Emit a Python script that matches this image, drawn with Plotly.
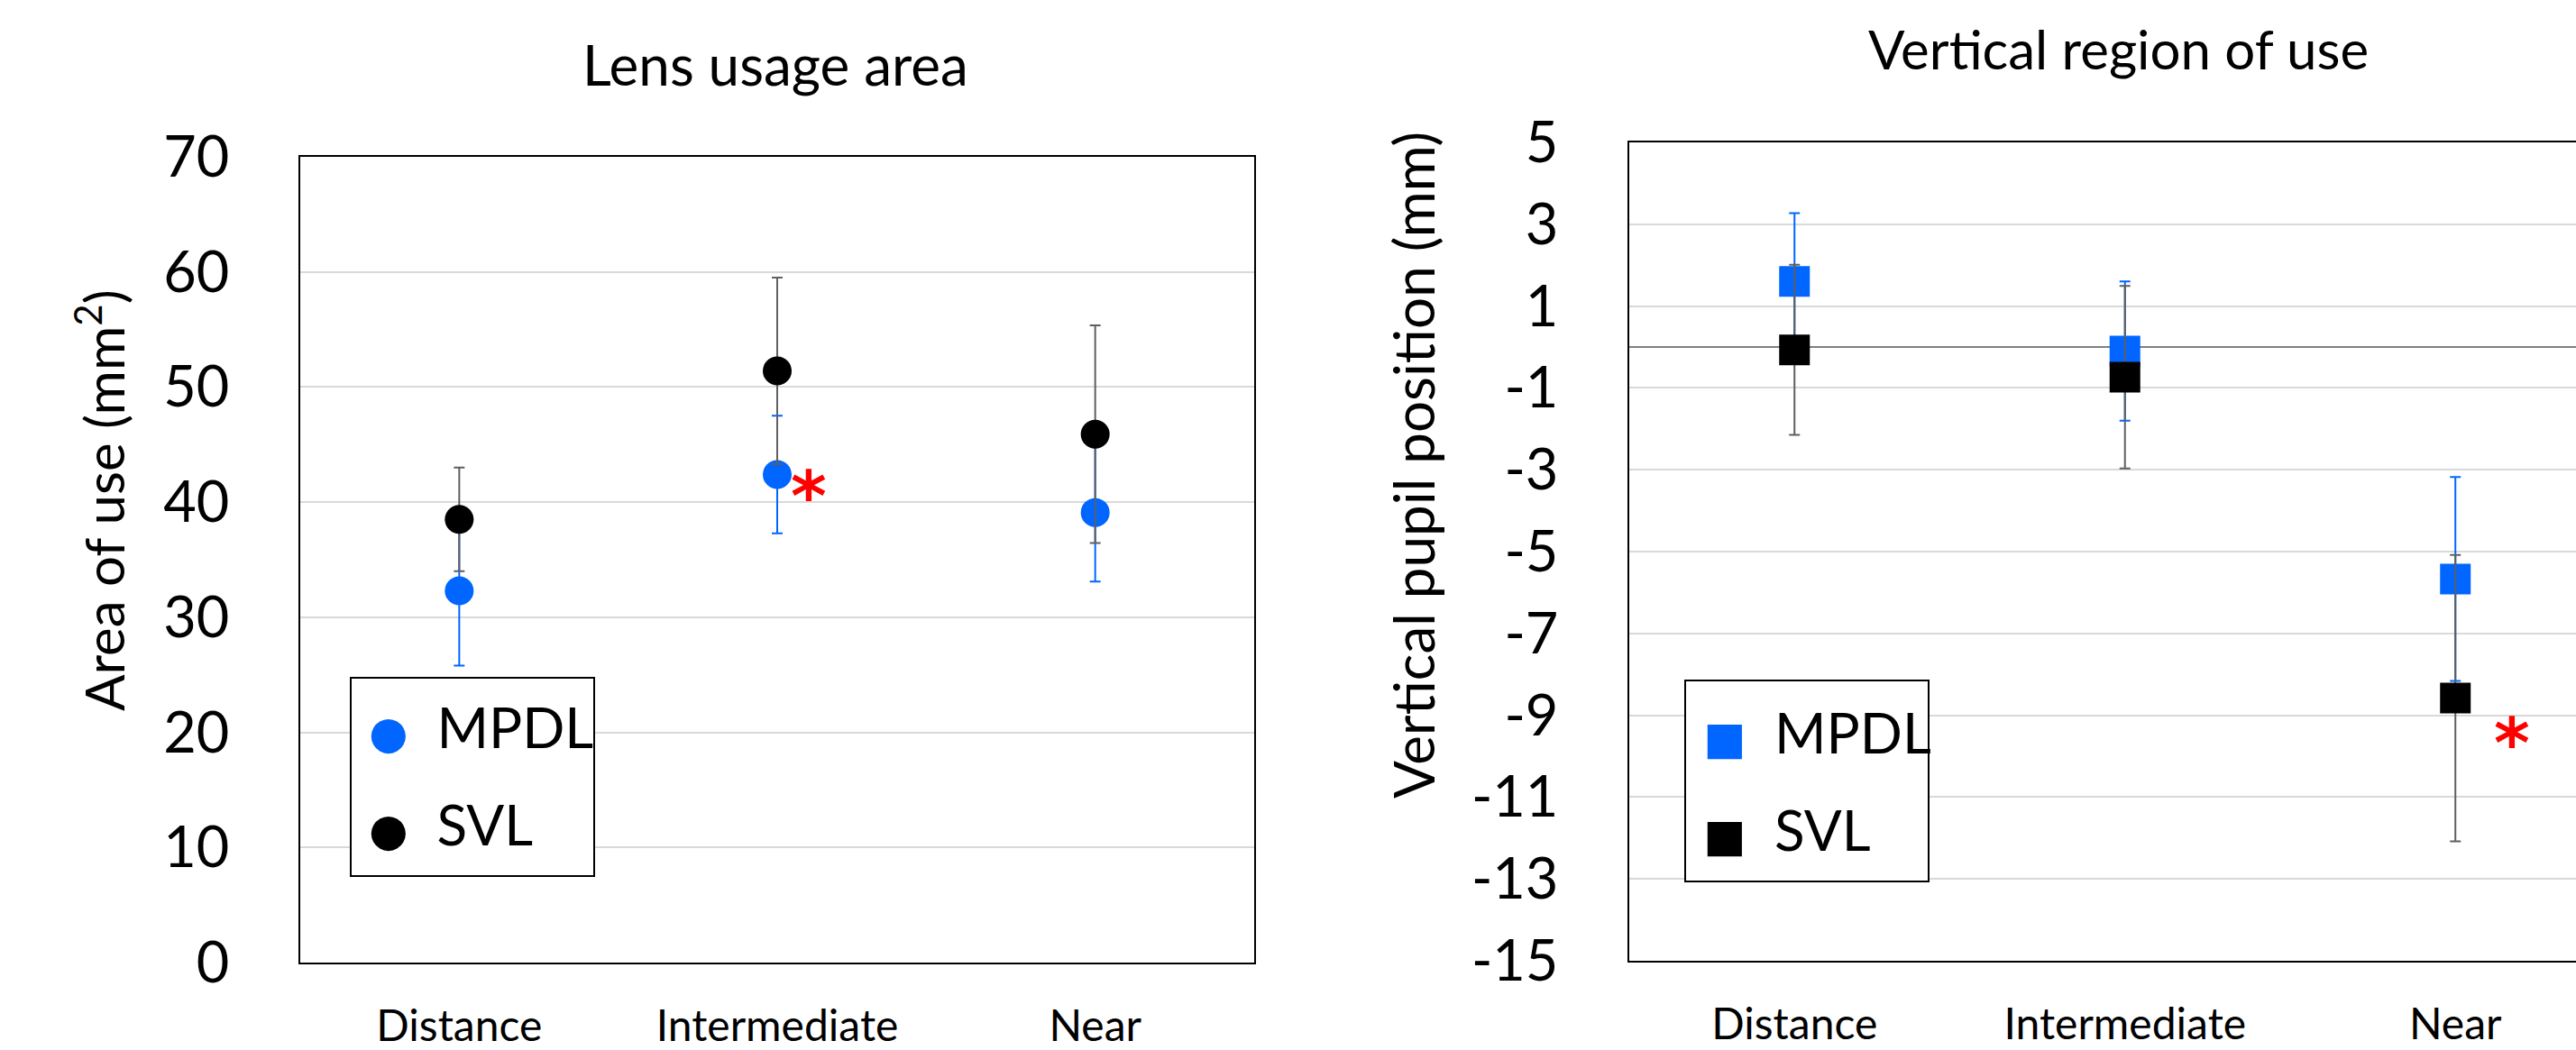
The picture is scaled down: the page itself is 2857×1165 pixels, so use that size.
import plotly.graph_objects as go

W, H = 2857, 1165

# ---------------- data ----------------
categories = ["Distance", "Intermediate", "Near"]
series_names = ["MPDL", "SVL"]

area_mpdl = [32.3, 42.4, 39.1]
area_mpdl_err = [6.5, 5.1, 6.0]
area_svl = [38.5, 51.4, 45.9]
area_svl_err = [4.5, 8.1, 9.45]

vert_mpdl = [1.6, -0.1, -5.67]
vert_mpdl_err = [1.67, 1.7, 2.49]
vert_svl = [-0.07, -0.74, -8.58]
vert_svl_err = [2.08, 2.23, 3.5]

area_ticks = [0, 10, 20, 30, 40, 50, 60, 70]
vert_ticks = [5, 3, 1, -1, -3, -5, -7, -9, -11, -13, -15]
vert_ticktext = ["5", "3", "1", "-1", "-3", "-5", "-7", "-9", "-11", "-13", "-15"]

# significance markers (category position, value)
area_sig = (1.1, 41.5)
vert_sig = (2.17, -9.45)

# ---------------- style ----------------
BLUE = "#0066ff"
BLACK = "#000000"
ERR_BLACK = "#5f5f5f"
GRID = "#d9d9d9"
FONT = "Lato"


def px_x(p):
    return p / W


def px_y(p):
    return 1 - p / H


fig = go.Figure()

# left panel
fig.add_trace(go.Scatter(
    x=categories, y=area_mpdl, mode="markers", name="MPDL", showlegend=False,
    marker=dict(color=BLUE, size=32, symbol="circle"),
    error_y=dict(type="data", array=area_mpdl_err, color=BLUE, thickness=2, width=6),
    xaxis="x", yaxis="y"))
fig.add_trace(go.Scatter(
    x=categories, y=area_svl, mode="markers", name="SVL", showlegend=False,
    marker=dict(color=BLACK, size=32, symbol="circle"),
    error_y=dict(type="data", array=area_svl_err, color=ERR_BLACK, thickness=2, width=6),
    xaxis="x", yaxis="y"))

# right panel
fig.add_trace(go.Scatter(
    x=categories, y=vert_mpdl, mode="markers", name="MPDL", showlegend=False,
    marker=dict(color=BLUE, size=34, symbol="square"),
    error_y=dict(type="data", array=vert_mpdl_err, color=BLUE, thickness=2, width=6),
    xaxis="x2", yaxis="y2"))
fig.add_trace(go.Scatter(
    x=categories, y=vert_svl, mode="markers", name="SVL", showlegend=False,
    marker=dict(color=BLACK, size=34, symbol="square"),
    error_y=dict(type="data", array=vert_svl_err, color=ERR_BLACK, thickness=2, width=6),
    xaxis="x2", yaxis="y2"))

# legend entries (big symbols as glyphs)
colors = [BLUE, BLACK]
for leg, glyph, gsize in (("legend", "\u25CF", 50), ("legend2", "\u25A0", 50)):
    for i, (n, c) in enumerate(zip(series_names, colors)):
        fig.add_trace(go.Scatter(
            x=[None], y=[None], mode="markers",
            marker=dict(color="rgba(0,0,0,0)", size=1),
            name=f'<span style="font-family:DejaVu Sans;font-size:{gsize}px;color:{c}">{glyph}</span>&nbsp; {n}',
            legend=leg, legendgroup=f"{leg}{i}", showlegend=True,
            xaxis="x" if leg == "legend" else "x2",
            yaxis="y" if leg == "legend" else "y2"))

axis_common = dict(showline=True, linecolor="black", linewidth=2, ticks="",
                   automargin=False)

legend_common = dict(xanchor="left", yanchor="top", bgcolor="rgba(0,0,0,0)",
                     borderwidth=0, font=dict(size=62), tracegroupgap=24,
                     itemwidth=30)

fig.update_layout(
    width=W, height=H,
    margin=dict(l=0, r=0, t=0, b=0),
    paper_bgcolor="white", plot_bgcolor="white",
    font=dict(family=FONT, color="black"),
    xaxis=dict(domain=[px_x(333), px_x(1391)], anchor="y", type="category",
               range=[-0.5, 2.5], mirror=True, showgrid=False,
               tickfont=dict(size=48), ticklabelstandoff=27, **axis_common),
    yaxis=dict(domain=[px_y(1068), px_y(174)], anchor="x", range=[0, 70],
               tickvals=area_ticks, mirror=True, showgrid=True, gridcolor=GRID,
               gridwidth=2, zeroline=False, tickfont=dict(size=63),
               ticklabelstandoff=64, **axis_common),
    xaxis2=dict(domain=[px_x(1807), 1.0], anchor="y2", type="category",
                range=[-0.5, 2.365], mirror=True, showgrid=False,
                tickfont=dict(size=48), ticklabelstandoff=27, **axis_common),
    yaxis2=dict(domain=[px_y(1066), px_y(158)], anchor="x2", range=[-15, 5],
                tickvals=vert_ticks, ticktext=vert_ticktext, mirror=False,
                showgrid=True, gridcolor=GRID, gridwidth=2,
                zeroline=True, zerolinecolor="#808080", zerolinewidth=2,
                tickfont=dict(size=63), ticklabelstandoff=64, **axis_common),
    legend=dict(x=px_x(369), y=px_y(759), **legend_common),
    legend2=dict(x=px_x(1849), y=px_y(765), **legend_common),
    shapes=[
        dict(type="rect", xref="paper", yref="paper",
             x0=px_x(389), x1=px_x(659), y0=px_y(972), y1=px_y(752),
             fillcolor="white", line=dict(color="black", width=2), layer="above"),
        dict(type="rect", xref="paper", yref="paper",
             x0=px_x(1869), x1=px_x(2139), y0=px_y(978), y1=px_y(755),
             fillcolor="white", line=dict(color="black", width=2), layer="above"),
    ],
    annotations=[
        dict(text="Lens usage area", xref="paper", yref="paper",
             x=px_x(860), y=px_y(71), xanchor="center", yanchor="middle",
             showarrow=False, font=dict(size=62)),
        dict(text="Vertical region of use", xref="paper", yref="paper",
             x=px_x(2349), y=px_y(54), xanchor="center", yanchor="middle",
             showarrow=False, font=dict(size=60)),
        dict(text="Area of use (mm<sup>2</sup>)", xref="paper", yref="paper",
             x=px_x(111), y=px_y(555), xanchor="center", yanchor="middle",
             textangle=-90, showarrow=False, font=dict(size=60)),
        dict(text="Vertical pupil position (mm)", xref="paper", yref="paper",
             x=px_x(1567), y=px_y(516), xanchor="center", yanchor="middle",
             textangle=-90, showarrow=False, font=dict(size=62)),
        dict(text="<b>*</b>", xref="x", yref="y", x=area_sig[0], y=area_sig[1],
             xanchor="center", yanchor="middle", showarrow=False, yshift=-13,
             font=dict(size=76, color="#ff0000", family="DejaVu Sans")),
        dict(text="<b>*</b>", xref="x2", yref="y2", x=vert_sig[0], y=vert_sig[1],
             xanchor="center", yanchor="middle", showarrow=False, yshift=-10,
             font=dict(size=76, color="#ff0000", family="DejaVu Sans")),
    ],
)

fig.write_html(
    "out.html",
    config={"displayModeBar": False},
    post_script="document.body.style.margin='0';document.body.style.overflow='hidden';",
)
